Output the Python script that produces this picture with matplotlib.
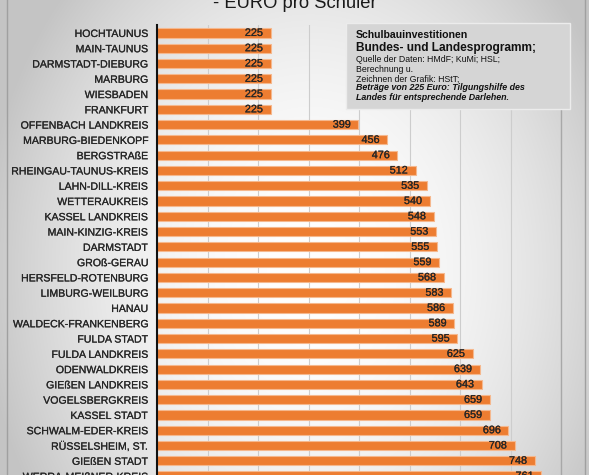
import numpy as np
import matplotlib
matplotlib.use("Agg")
import matplotlib.pyplot as plt
import matplotlib.patheffects as pe
from matplotlib.patches import Rectangle
from matplotlib.lines import Line2D

plt.rcParams['font.family'] = ['Liberation Sans', 'DejaVu Sans']

categories = [
    "HOCHTAUNUS", "MAIN-TAUNUS", "DARMSTADT-DIEBURG", "MARBURG", "WIESBADEN",
    "FRANKFURT", "OFFENBACH LANDKREIS", "MARBURG-BIEDENKOPF", "BERGSTRAßE",
    "RHEINGAU-TAUNUS-KREIS", "LAHN-DILL-KREIS", "WETTERAUKREIS",
    "KASSEL LANDKREIS", "MAIN-KINZIG-KREIS", "DARMSTADT", "GROß-GERAU",
    "HERSFELD-ROTENBURG", "LIMBURG-WEILBURG", "HANAU", "WALDECK-FRANKENBERG",
    "FULDA STADT", "FULDA LANDKREIS", "ODENWALDKREIS", "GIEßEN LANDKREIS",
    "VOGELSBERGKREIS", "KASSEL STADT", "SCHWALM-EDER-KREIS",
    "RÜSSELSHEIM, ST.", "GIEßEN STADT", "WERRA-MEIßNER-KREIS",
]
values = [225, 225, 225, 225, 225, 225, 399, 456, 476, 512, 535, 540, 548,
          553, 555, 559, 568, 583, 586, 589, 595, 625, 639, 643, 659, 659,
          696, 708, 748, 761]
x_ticks = [0, 100, 200, 300, 400, 500, 600, 700, 800]

title_text = "- EURO pro Schüler"
box_lines = [
    ("Schulbauinvestitionen", 7.6, "bold", "normal"),
    ("Bundes- und Landesprogramm;", 8.6, "bold", "normal"),
    ("Quelle der Daten: HMdF; KuMi; HSL;", 6.3, "normal", "normal"),
    ("Berechnung u.", 6.3, "normal", "normal"),
    ("Zeichnen der Grafik: HStT;", 6.3, "normal", "normal"),
    ("Beträge von 225 Euro: Tilgungshilfe des", 6.4, "bold", "italic"),
    ("Landes für entsprechende Darlehen.", 6.4, "bold", "italic"),
]

W, H = 589, 475
fig = plt.figure(figsize=(W / 100, H / 100), dpi=100)

# background gradient
bg = fig.add_axes([0, 0, 1, 1], zorder=-10)
xx, yy = np.meshgrid(np.arange(W), np.arange(H))
d = ((xx - 310) / 300.0) ** 2 + ((yy - 270) / 380.0) ** 2
val = 1 - 0.19 * np.clip(d, 0, 1.2)
bg.imshow(np.dstack([val, val, val]), aspect='auto', extent=[0, W, H, 0])
bg.set_xlim(0, W)
bg.set_ylim(H, 0)
bg.axis('off')

def fx(px):
    return px / W

def fy(py):
    return 1 - py / H

thick = [pe.withStroke(linewidth=0.15, foreground='#262626')]

# main axes
row_h = 15.28
top_px = 25
y_top = -0.52
y_bot = 30.5
ax_left, ax_right = 157, 561
bottom_px = top_px + (y_bot - y_top) * row_h
ax = fig.add_axes([fx(ax_left), fy(bottom_px), fx(ax_right - ax_left),
                   (bottom_px - top_px) / H], zorder=1)
ax.set_facecolor('none')

y = np.arange(len(categories))
ax.barh(y, values, height=0.6, color='#ED7D31', edgecolor='#F5B88E',
        linewidth=0.8, zorder=2)
for yi, v in zip(y, values):
    ax.annotate(str(v), xy=(v, yi), xytext=(-5.5, 0), textcoords='offset points',
                ha='right', va='center', fontsize=7.8, color='#262626', zorder=3,
                path_effects=thick)

ax.set_xlim(0, 800)
ax.set_ylim(y_bot, y_top)
ax.set_xticks(x_ticks)
ax.set_xticklabels([])
ax.tick_params(axis='x', length=0)
ax.set_yticks(y)
ax.set_yticklabels(categories, fontsize=7.6, color='#262626')
for lab in ax.get_yticklabels():
    lab.set_path_effects(thick)
ax.tick_params(axis='y', length=0, pad=6.5)
ax.grid(axis='x', color='#cdcdcd', linewidth=0.8, zorder=0)
ax.set_axisbelow(True)
for s in ['top', 'bottom']:
    ax.spines[s].set_visible(False)
ax.spines['right'].set_color('#a8a8a8')
ax.spines['right'].set_linewidth(1.0)
ax.spines['left'].set_color('#111111')
ax.spines['left'].set_linewidth(1.5)

# outer frame lines
for xp in (7, 585):
    fig.add_artist(Line2D([fx(xp), fx(xp)], [0, 1], color='#a0a0a0', lw=1.0,
                          transform=fig.transFigure, zorder=5))

# title (partially cut at top)
fig.text(fx(295), fy(8), title_text, ha='center', va='baseline',
         fontsize=13.2, color='#1a1a1a')

# info box
box = Rectangle((fx(346), fy(109)), fx(570 - 346), (109 - 23) / H,
                transform=fig.transFigure, facecolor='#d5d5d5',
                edgecolor='#ececec', lw=1.0, zorder=6)
fig.add_artist(box)
line_y = [35, 48, 59.5, 69.5, 79, 88, 97.5]
for (txt, fs, fw, st), yp in zip(box_lines, line_y):
    fig.text(fx(356), fy(yp), txt, ha='left', va='center', fontsize=fs,
             fontweight=fw, fontstyle=st, color='#111111', zorder=7)

fig.savefig('out.png', dpi=100)
